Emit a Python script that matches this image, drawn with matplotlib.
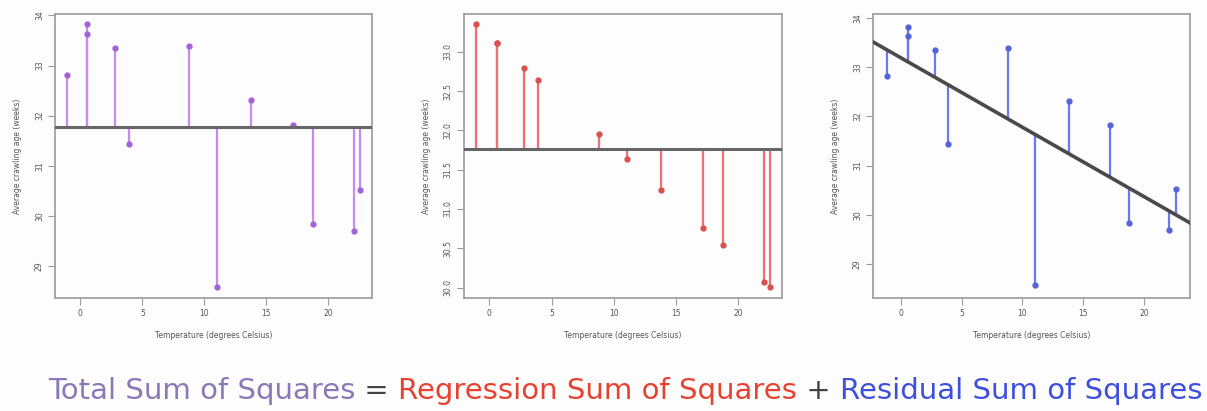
import numpy as np
import matplotlib
matplotlib.use("Agg")
import matplotlib.pyplot as plt

# data
temperature = [-1.1, 0.57, 0.57, 2.8, 3.9, 8.8, 11.05, 13.8, 17.2, 18.8, 22.1, 22.6]
crawl_age = [32.82, 33.82, 33.64, 33.35, 31.44, 33.39, 28.57, 32.31, 31.82, 29.84, 29.69, 30.52]

x_ticks = [0, 5, 10, 15, 20]
y_ticks_raw = [29, 30, 31, 32, 33, 34]
y_ticks_fit = [30.0, 30.5, 31.0, 31.5, 32.0, 32.5, 33.0]

x_label = "Temperature (degrees Celsius)"
y_label = "Average crawling age (weeks)"

caption = [
    ("Total Sum of Squares", "#8a78b8"),
    (" = ", "#444444"),
    ("Regression Sum of Squares", "#e8412f"),
    (" + ", "#444444"),
    ("Residual Sum of Squares", "#3e4fe0"),
]

x = np.array(temperature)
y = np.array(crawl_age)
mean_y = y.mean()
slope, intercept = np.polyfit(x, y, 1)
fitted = intercept + slope * x

fig = plt.figure(figsize=(12.07, 4.11), dpi=100)
fig.patch.set_facecolor("#fdfdfd")

positions = [
    [0.0456, 0.275, 0.2626, 0.691],
    [0.3844, 0.275, 0.2635, 0.691],
    [0.7233, 0.275, 0.2626, 0.691],
]
axes = [fig.add_axes(p) for p in positions]


def style(ax, yticks, ylabels):
    ax.set_facecolor("#fdfdfd")
    for s in ax.spines.values():
        s.set_color("#9a9a9a")
        s.set_linewidth(1.2)
    ax.set_xticks(x_ticks)
    ax.set_xticklabels([str(t) for t in x_ticks])
    ax.set_yticks(yticks)
    ax.set_yticklabels(ylabels, rotation=90, va="center")
    ax.tick_params(direction="out", length=5, width=0.8, color="#9a9a9a",
                   labelsize=5.5, labelcolor="#555555", pad=3)
    ax.set_xlabel(x_label, fontsize=5.5, color="#555555", labelpad=9)
    ax.set_ylabel(y_label, fontsize=5.5, color="#555555", labelpad=9)
    ax.margins(x=0.04, y=0.04)


# Total: deviations from the mean
ax = axes[0]
ax.vlines(x, mean_y, y, color="#c78cf0", lw=1.6, zorder=2)
ax.plot(x, y, "o", color="#a263d8", ms=3.5, zorder=3)
ax.axhline(mean_y, color="#666666", lw=2.2, zorder=4)
style(ax, y_ticks_raw, [str(t) for t in y_ticks_raw])

# Regression: fitted values vs the mean
ax = axes[1]
ax.vlines(x, mean_y, fitted, color="#f07070", lw=1.6, zorder=2)
ax.plot(x, fitted, "o", color="#d85050", ms=3.5, zorder=3)
ax.axhline(mean_y, color="#666666", lw=2.2, zorder=4)
style(ax, y_ticks_fit, ["%.1f" % t for t in y_ticks_fit])

# Residual: observed vs regression line
ax = axes[2]
ax.vlines(x, fitted, y, color="#6b78ee", lw=1.6, zorder=2)
ax.plot(x, y, "o", color="#5563d8", ms=3.5, zorder=3)
style(ax, y_ticks_raw, [str(t) for t in y_ticks_raw])
ax.autoscale(False)
xl = np.array(ax.get_xlim())
ax.plot(xl, intercept + slope * xl, color="#4a4a4a", lw=2.6, zorder=4)

# caption, pieces placed one after another
fig.canvas.draw()
renderer = fig.canvas.get_renderer()
target_left, target_right = 48, 1200
fs = 22
texts = []
for s, c in caption:
    t = fig.text(0, 0.029, s, color=c, fontsize=fs, va="baseline", ha="left",
                 family="DejaVu Sans")
    texts.append(t)
widths = [t.get_window_extent(renderer).width for t in texts]
scale = (target_right - target_left) / sum(widths)
for t in texts:
    t.set_fontsize(fs * scale)
fig.canvas.draw()
pos = target_left
for t in texts:
    t.set_x(pos / fig.bbox.width)
    pos += t.get_window_extent(renderer).width

fig.savefig("out.png", dpi=100, facecolor=fig.get_facecolor())
